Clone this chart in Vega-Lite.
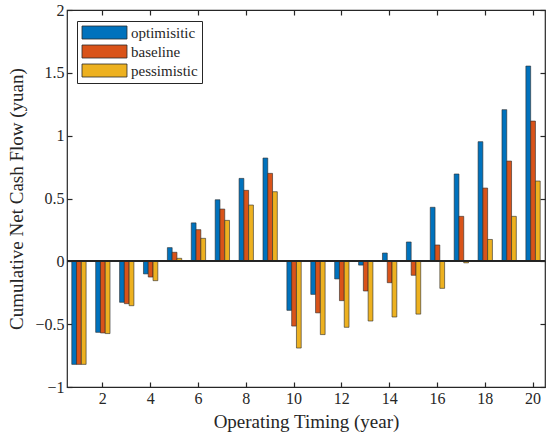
{
  "$schema": "https://vega.github.io/schema/vega-lite/v6.json",
  "width": 478,
  "height": 377,
  "autosize": {"type": "none"},
  "padding": {"left": 67, "top": 10, "right": 5, "bottom": 54},
  "background": "white",
  "data": {
    "values": [
      {"year": 1, "scenario": "optimisitic", "flow": -0.82},
      {"year": 1, "scenario": "baseline", "flow": -0.82},
      {"year": 1, "scenario": "pessimistic", "flow": -0.82},
      {"year": 2, "scenario": "optimisitic", "flow": -0.565},
      {"year": 2, "scenario": "baseline", "flow": -0.57},
      {"year": 2, "scenario": "pessimistic", "flow": -0.575},
      {"year": 3, "scenario": "optimisitic", "flow": -0.326},
      {"year": 3, "scenario": "baseline", "flow": -0.337},
      {"year": 3, "scenario": "pessimistic", "flow": -0.353},
      {"year": 4, "scenario": "optimisitic", "flow": -0.10},
      {"year": 4, "scenario": "baseline", "flow": -0.125},
      {"year": 4, "scenario": "pessimistic", "flow": -0.154},
      {"year": 5, "scenario": "optimisitic", "flow": 0.109},
      {"year": 5, "scenario": "baseline", "flow": 0.072},
      {"year": 5, "scenario": "pessimistic", "flow": 0.024},
      {"year": 6, "scenario": "optimisitic", "flow": 0.306},
      {"year": 6, "scenario": "baseline", "flow": 0.252},
      {"year": 6, "scenario": "pessimistic", "flow": 0.183},
      {"year": 7, "scenario": "optimisitic", "flow": 0.49},
      {"year": 7, "scenario": "baseline", "flow": 0.416},
      {"year": 7, "scenario": "pessimistic", "flow": 0.326},
      {"year": 8, "scenario": "optimisitic", "flow": 0.66},
      {"year": 8, "scenario": "baseline", "flow": 0.565},
      {"year": 8, "scenario": "pessimistic", "flow": 0.448},
      {"year": 9, "scenario": "optimisitic", "flow": 0.822},
      {"year": 9, "scenario": "baseline", "flow": 0.70},
      {"year": 9, "scenario": "pessimistic", "flow": 0.554},
      {"year": 10, "scenario": "optimisitic", "flow": -0.39},
      {"year": 10, "scenario": "baseline", "flow": -0.515},
      {"year": 10, "scenario": "pessimistic", "flow": -0.69},
      {"year": 11, "scenario": "optimisitic", "flow": -0.263},
      {"year": 11, "scenario": "baseline", "flow": -0.41},
      {"year": 11, "scenario": "pessimistic", "flow": -0.583},
      {"year": 12, "scenario": "optimisitic", "flow": -0.14},
      {"year": 12, "scenario": "baseline", "flow": -0.313},
      {"year": 12, "scenario": "pessimistic", "flow": -0.525},
      {"year": 13, "scenario": "optimisitic", "flow": -0.03},
      {"year": 13, "scenario": "baseline", "flow": -0.236},
      {"year": 13, "scenario": "pessimistic", "flow": -0.475},
      {"year": 14, "scenario": "optimisitic", "flow": 0.066},
      {"year": 14, "scenario": "baseline", "flow": -0.17},
      {"year": 14, "scenario": "pessimistic", "flow": -0.443},
      {"year": 15, "scenario": "optimisitic", "flow": 0.154},
      {"year": 15, "scenario": "baseline", "flow": -0.111},
      {"year": 15, "scenario": "pessimistic", "flow": -0.42},
      {"year": 16, "scenario": "optimisitic", "flow": 0.43},
      {"year": 16, "scenario": "baseline", "flow": 0.13},
      {"year": 16, "scenario": "pessimistic", "flow": -0.215},
      {"year": 17, "scenario": "optimisitic", "flow": 0.695},
      {"year": 17, "scenario": "baseline", "flow": 0.358},
      {"year": 17, "scenario": "pessimistic", "flow": -0.012},
      {"year": 18, "scenario": "optimisitic", "flow": 0.952},
      {"year": 18, "scenario": "baseline", "flow": 0.583},
      {"year": 18, "scenario": "pessimistic", "flow": 0.174},
      {"year": 19, "scenario": "optimisitic", "flow": 1.207},
      {"year": 19, "scenario": "baseline", "flow": 0.798},
      {"year": 19, "scenario": "pessimistic", "flow": 0.358},
      {"year": 20, "scenario": "optimisitic", "flow": 1.554},
      {"year": 20, "scenario": "baseline", "flow": 1.116},
      {"year": 20, "scenario": "pessimistic", "flow": 0.639}
    ]
  },
  "layer": [
    {
      "mark": {"type": "bar", "stroke": "#2a2a2a", "strokeWidth": 0.6},
      "encoding": {
        "x": {
          "field": "year",
          "type": "ordinal",
          "scale": {"paddingInner": 0.4, "paddingOuter": 0.2},
          "axis": {
            "orient": "bottom",
            "values": [2, 4, 6, 8, 10, 12, 14, 16, 18, 20],
            "labelAngle": 0,
            "title": "Operating Timing (year)",
            "titlePadding": 6
          }
        },
        "xOffset": {
          "field": "scenario",
          "type": "nominal",
          "sort": ["optimisitic", "baseline", "pessimistic"]
        },
        "y": {
          "field": "flow",
          "type": "quantitative",
          "scale": {"domain": [-1, 2], "nice": false, "zero": false},
          "axis": {
            "orient": "left",
            "values": [-1, -0.5, 0, 0.5, 1, 1.5, 2],
            "format": "~g",
            "title": "Cumulative Net Cash Flow (yuan)",
            "titlePadding": 8
          }
        },
        "color": {
          "field": "scenario",
          "type": "nominal",
          "sort": ["optimisitic", "baseline", "pessimistic"],
          "scale": {
            "domain": ["optimisitic", "baseline", "pessimistic"],
            "range": ["#0072BD", "#D95319", "#EDB120"]
          },
          "legend": {
            "title": null,
            "orient": "none",
            "legendX": 10,
            "legendY": 11,
            "padding": 4,
            "rowPadding": 2,
            "strokeColor": "#262626",
            "fillColor": "white",
            "symbolType": "M-3.46,-1H3.46V1H-3.46Z",
            "symbolSize": 169,
            "symbolOffset": 16,
            "symbolStrokeColor": "#2a2a2a",
            "symbolStrokeWidth": 0.8,
            "symbolOpacity": 1,
            "labelFont": "Liberation Serif",
            "labelFontSize": 15,
            "labelColor": "#262626",
            "labelOffset": 19
          }
        }
      }
    },
    {
      "mark": {"type": "bar", "opacity": 0},
      "encoding": {
        "x": {
          "field": "year",
          "type": "ordinal",
          "scale": {"paddingInner": 0.4, "paddingOuter": 0.2},
          "axis": {
            "orient": "top",
            "values": [2, 4, 6, 8, 10, 12, 14, 16, 18, 20],
            "labels": false,
            "title": null
          }
        },
        "y": {
          "field": "flow",
          "type": "quantitative",
          "scale": {"domain": [-1, 2], "nice": false, "zero": false},
          "axis": {
            "orient": "right",
            "values": [-1, -0.5, 0, 0.5, 1, 1.5, 2],
            "labels": false,
            "title": null
          }
        }
      }
    },
    {
      "mark": {"type": "rule", "color": "#262626", "strokeWidth": 1},
      "encoding": {"y": {"datum": 0, "type": "quantitative", "axis": null}}
    }
  ],
  "resolve": {"axis": {"x": "independent", "y": "independent"}},
  "config": {
    "view": {"stroke": "#262626", "strokeWidth": 1.2},
    "axis": {
      "grid": false,
      "domain": false,
      "tickSize": -5,
      "tickColor": "#262626",
      "tickWidth": 1.2,
      "labelFont": "Liberation Serif",
      "labelFontSize": 16,
      "labelColor": "#262626",
      "labelPadding": 8,
      "titleFont": "Liberation Serif",
      "titleFontSize": 19,
      "titleFontWeight": "normal",
      "titleColor": "#262626"
    }
  }
}
